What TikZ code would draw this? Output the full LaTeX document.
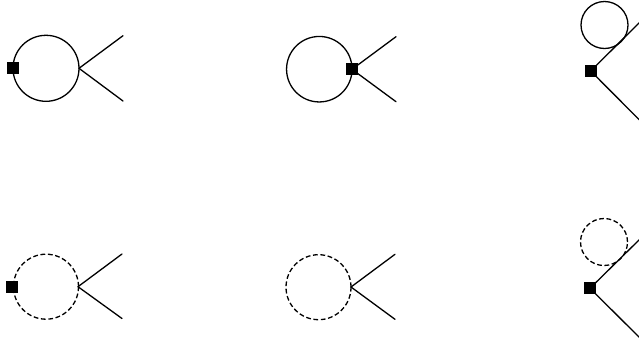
\documentclass[tikz,border=0pt]{standalone}
\tikzset{
  loopsolid/.style={circle,draw=black,line width=1.3pt,inner sep=0pt,fill=none},
  loopdash/.style={circle,draw=black,line width=1.3pt,inner sep=0pt,fill=none,dash pattern=on 4.8pt off 2.6pt},
  vertexbox/.style={rectangle,fill=black,draw=none,minimum size=12pt,inner sep=0pt},
  leg/.style={line width=1.3pt,black,line cap=round}
}
\begin{document}
\begin{tikzpicture}[x=1pt,y=-1pt]
\useasboundingbox (0,0) rectangle (639,346);
% top left
\node[loopsolid,minimum size=66pt] (c1) at (46,68.3) {};
\node[vertexbox] (s1) at (12.8,68.2) {};
\coordinate (v1) at (79,68.3);
\coordinate (a1) at (123,35.7);
\coordinate (b1) at (123,101);
\draw[leg] (v1) -- (a1);
\draw[leg] (v1) -- (b1);
% top middle
\node[loopsolid,minimum size=65.5pt] (c2) at (319.3,69.2) {};
\node[vertexbox] (s2) at (352,69.3) {};
\coordinate (a2) at (396,36.7);
\coordinate (b2) at (396,101.7);
\draw[leg] (s2.center) -- (a2);
\draw[leg] (s2.center) -- (b2);
% top right
\node[loopsolid,minimum size=47pt] (c3) at (604.5,25) {};
\node[vertexbox] (s3) at (590.7,71) {};
\coordinate (a3) at (640,22);
\coordinate (b3) at (640,120.5);
\draw[leg] (s3.center) -- (a3);
\draw[leg] (s3.center) -- (b3);
% bottom left
\node[loopdash,minimum size=65pt] (c4) at (46,286.7) {};
\node[vertexbox] (s4) at (12.3,286.7) {};
\coordinate (v4) at (78,286.7);
\coordinate (a4) at (122,254);
\coordinate (b4) at (122,318.5);
\draw[leg] (v4) -- (a4);
\draw[leg] (v4) -- (b4);
% bottom middle
\node[loopdash,minimum size=65pt] (c5) at (318.5,287.2) {};
\coordinate (v5) at (351,287);
\coordinate (a5) at (395,254.3);
\coordinate (b5) at (395,319.3);
\draw[leg] (v5) -- (a5);
\draw[leg] (v5) -- (b5);
% bottom right
\node[loopdash,minimum size=47pt] (c6) at (604,242) {};
\node[vertexbox] (s6) at (590,288.3) {};
\coordinate (a6) at (640,239);
\coordinate (b6) at (640,338);
\draw[leg] (s6.center) -- (a6);
\draw[leg] (s6.center) -- (b6);
\end{tikzpicture}
\end{document}
